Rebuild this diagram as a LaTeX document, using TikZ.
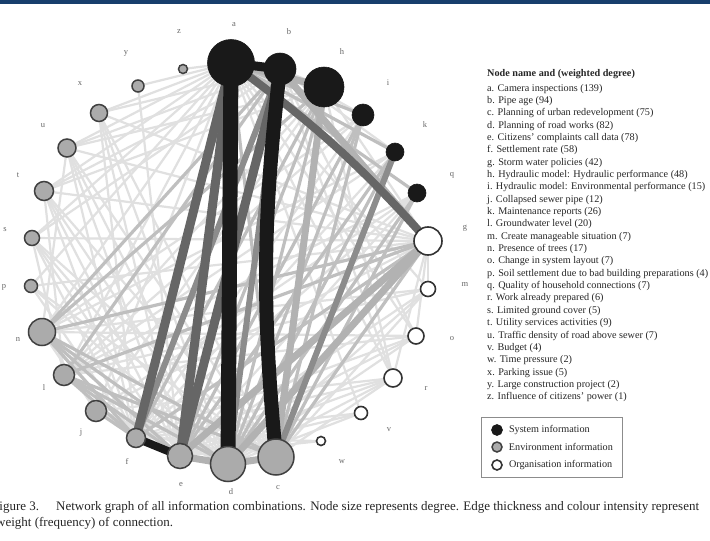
\documentclass[tikz,border=0pt]{standalone}
\usepackage{fontspec}
\setmainfont{Liberation Serif}
\usetikzlibrary{positioning}

\definecolor{headblue}{RGB}{24,62,108}
\pgfdeclarelayer{edges}
\pgfsetlayers{edges,main}

\tikzset{
  sysnode/.style={circle, inner sep=0pt, fill=black!90, draw=black!90, line width=0.6pt},
  envnode/.style={circle, inner sep=0pt, fill=black!33, draw=black!75, line width=1.5pt},
  orgnode/.style={circle, inner sep=0pt, fill=white, draw=black!80, line width=1.6pt},
  lbl/.style={font=\fontsize{8.5}{9}\selectfont, text=black!60, inner sep=0pt},
  w1/.style={line width=2.2pt, draw=black!12},
  w2/.style={line width=3.2pt, draw=black!25},
  w3/.style={line width=7pt, draw=black!30},
  w4/.style={line width=6pt, draw=black!45},
  w5/.style={line width=9pt, draw=black!60},
  w6/.style={draw=black!90},
  keytxt/.style={font=\fontsize{10.2}{12}\selectfont, text=black!85, inner sep=0pt, anchor=base west},
  captxt/.style={font=\fontsize{13}{15}\selectfont, text=black!85, inner sep=0pt, anchor=base west},
}

\begin{document}
\begin{tikzpicture}[x=1pt, y=-1pt]
  \useasboundingbox (0,0) rectangle (710,541);
  % header band
  \fill[headblue] (0,0) rectangle (710,4);

  % Draw nodes on the circle and their letters
  \foreach \n/\x/\y/\rad/\typ/\lx/\ly in {
    a/231/63/23.5/sysnode/234/25, b/280/69/16/sysnode/289/32,
    h/324/87/20/sysnode/342/52, i/363/115/11/sysnode/388/83,
    k/395/152/9/sysnode/425/125, q/417/193/9/sysnode/452/175,
    g/428/241/14/orgnode/465/228, m/428/289/7.5/orgnode/465/284,
    o/416/336/8/orgnode/452/339, r/393/378/9/orgnode/426/388,
    v/361/413/6.5/orgnode/389/430, w/321/441/4.5/orgnode/342/462,
    c/276/457/18/envnode/278/488, d/228/464/17.5/envnode/231/492,
    e/180/456/12.5/envnode/181/485, f/136/438/9.5/envnode/127/462,
    j/96/411/10.5/envnode/81/433, l/64/375/10.5/envnode/44/388,
    n/42/332/13.5/envnode/18/339, p/31/286/6.5/envnode/4/287,
    s/32/238/7.5/envnode/5/230, t/44/191/9.5/envnode/18/175,
    u/67/148/9/envnode/43/126, x/99/113/8.5/envnode/80/84,
    y/138/86/6/envnode/126/53, z/183/69/4.5/envnode/179/32}
  {
    \node[\typ, minimum size=2*\rad] (\n) at (\x,\y) {};
    \node[lbl] (\n-lbl) at (\lx,\ly) {\n};
  }

  % Draw edges under the nodes, light ones first
  \begin{pgfonlayer}{edges}
    \fill[white] (0,4) rectangle (710,541);
    \foreach \u/\v in {a/z, a/y, a/x, a/u, a/t, a/s, a/p, a/n, a/l, a/j, a/o, a/r, a/v, a/m,
      b/t, b/u, b/s, b/r, b/o, b/k, b/i, b/x, b/h,
      h/j, h/l, h/t, h/r, h/g, h/u,
      i/f, i/l, i/n, k/f, k/l, k/n, q/l, q/f, q/j, q/e,
      g/j, g/m, g/o, g/r, g/t, g/s, g/u, g/x, g/p,
      m/c, m/d, m/e, m/n, m/l, o/d, o/e, o/l, o/f, o/n,
      r/d, r/e, r/f, r/j, r/c, v/f, v/d, v/e, w/f, w/e, y/e,
      c/u, c/x, c/s, c/t, c/j, c/p, d/t, d/u, d/x, d/j, d/s, d/p,
      e/t, e/u, e/s, e/x, e/j, f/t, f/u, f/s, f/x, f/p,
      j/n, l/t, n/u, l/s}
      \draw[w1] (\u.center) -- (\v.center);
    \foreach \u/\v in {a/i, a/k, a/q, h/e, h/d, h/f, h/n, i/d, i/e, i/c, k/e, k/d,
      q/d, q/c, g/f, g/c, g/l, g/n, c/n, c/l, d/l, d/n, e/l, e/n, f/l, f/j, f/n,
      b/n, b/l, a/c}
      \draw[w2] (\u.center) -- (\v.center);
    \foreach \u/\v in {a/h, b/g, c/d, d/e, h/c, g/d, g/e}
      \draw[w3] (\u.center) -- (\v.center);
    \foreach \u/\v in {k/c, b/d, b/f}
      \draw[w4] (\u.center) -- (\v.center);
    \foreach \u/\v in {a/f, a/e, b/e}
      \draw[w5] (\u.center) -- (\v.center);
    \draw[w5, line width=8pt] (a.center) to[bend left=6] (g.center);

    % heaviest connections
    \draw[w6, line width=15pt] (a.center) -- (d.center);
    \draw[w6, line width=14pt] (b.center) to[bend right=6] (c.center);
    \draw[w6, line width=9pt] (a.center) -- (b.center);
    \draw[w6, line width=8pt] (e.center) -- (f.center);
  \end{pgfonlayer}

  % Legend with node names
  \node[keytxt, font=\fontsize{10.2}{12}\selectfont\bfseries] (keyhead) at (487,76) {Node name and (weighted degree)};
  \foreach \t [count=\i from 0] in {a. Camera inspections (139), b. Pipe age (94),
    c. Planning of urban redevelopment (75), d. Planning of road works (82),
    e. Citizens' complaints call data (78), f. Settlement rate (58),
    g. Storm water policies (42), h. Hydraulic model: Hydraulic performance (48),
    i. Hydraulic model: Environmental performance (15), j. Collapsed sewer pipe (12),
    k. Maintenance reports (26), l. Groundwater level (20),
    m. Create manageable situation (7), n. Presence of trees (17),
    o. Change in system layout (7), p. Soil settlement due to bad building preparations (4),
    q. Quality of household connections (7), r. Work already prepared (6),
    s. Limited ground cover (5), t. Utility services activities (9),
    u. Traffic density of road above sewer (7), v. Budget (4),
    w. Time pressure (2), x. Parking issue (5),
    y. Large construction project (2), z. Influence of citizens' power (1)}
    \node[keytxt] (item\i) at ({487},{91+12.35*\i}) {\t};

  % Legend for node colours
  \draw[black!45, line width=1pt] (481,417) rectangle (622,477);
  \node[sysnode, minimum size=11] (k1) at (497,430) {};
  \node[envnode, minimum size=10] (k2) at (497,447) {};
  \node[orgnode, minimum size=10] (k3) at (497,465) {};
  \node[keytxt, right=6pt of k1] (k1-txt) {System information};
  \node[keytxt, right=6pt of k2] (k2-txt) {Environment information};
  \node[keytxt, right=6pt of k3] (k3-txt) {Organisation information};

  % Caption, cut by the page edges as in the scan
  \node[captxt] (cap1) at (-8,510)
    {Figure 3.\hspace{17pt}Network graph of all information combinations. Node size represents degree. Edge thickness and colour intensity represent};
  \node[captxt] (cap2) at (-4,526) {weight (frequency) of connection.};
\end{tikzpicture}
\end{document}
